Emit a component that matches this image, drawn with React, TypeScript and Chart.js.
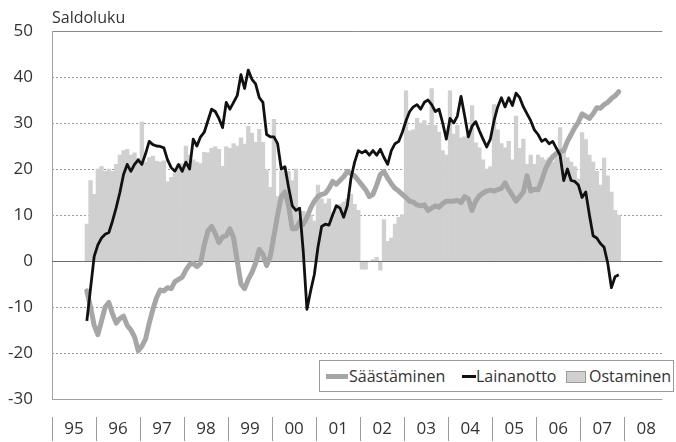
import { useEffect, useRef } from 'react';
import { Chart, registerables } from 'chart.js';

Chart.register(...registerables);

// Monthly series, October 1995 ... November 2007
const START_YEAR = 1995;
const START_MONTH = 9; // October (0-based)

const yearLabels = ['95', '96', '97', '98', '99', '00', '01', '02', '03', '04', '05', '06', '07', '08'];
const yTickValues = [-30, -20, -10, 0, 10, 20, 30, 40, 50];

const ostaminen = [
  8, 17.5, 14.5,
  20, 20.5, 19.5, 20, 19.5, 21, 23, 24, 24.3, 23, 23.5, 22.3,
  30.2, 21.5, 22.5, 22.8, 21.7, 21.5, 21.8, 17.2, 18.2, 19, 21, 21.2,
  25, 23, 22, 21.5, 21.2, 23.6, 23.5, 24.5, 24.8, 24.3, 20.6, 24.8,
  24.5, 25.5, 25, 26.8, 25.4, 29.3, 27.8, 25.8, 28.6, 25.8, 19.8, 16,
  30.8, 14, 19.5, 20.3, 19.5, 17.5, 20, 9.5, 10.8, 9.4, 10, 8.7,
  16.5, 13.5, 12.5, 13.5, 10.5, 11.6, 12.3, 12.8, 13.5, 14.5, 12.3, 11,
  -1.8, -1.8, 0, 0.3, 0.8, -2, 9, 4.3, 5, 8, 9.5, 10.1,
  37, 28.3, 28.5, 31, 30, 30.5, 29.5, 37.5, 29.5, 28, 24, 23,
  37, 27.6, 29.5, 26.8, 27, 27.5, 33.8, 25.7, 24.6, 22, 20, 20.5,
  34, 28.5, 25.5, 24.6, 26, 22, 31.5, 24.5, 26.5, 21, 23, 21,
  23, 22.5, 22, 22.5, 21.5, 23.5, 29, 24, 22.5, 21.5, 20.5, 17.8,
  27.9, 26.4, 23, 21.5, 19.5, 16.5, 22.4, 18.5, 15, 11, 10,
];

const lainanotto = [
  -13, -6, 1,
  3.5, 5, 5.8, 6.2, 8.7, 11.6, 14.9, 18.8, 21, 19.5, 21, 22,
  21, 23.3, 26, 25.3, 25, 24.9, 24.6, 22, 20.3, 19.5, 21, 19.5,
  21.5, 20, 26.5, 25, 27, 28, 30.5, 33, 32.5, 31, 29, 34.5,
  33, 34.5, 36, 40.5, 37.5, 41.5, 39.5, 38.5, 35.5, 34.5, 27.5, 27,
  27, 25.5, 20, 20.5, 16, 12, 11, 11.5, 2, -10.5, -6.5, -3,
  3, 7.5, 8, 7.8, 10, 12, 11.5, 9.5, 12, 18, 21.5, 24,
  23.5, 24, 23, 24, 23, 24.3, 22.5, 21, 24, 25.5, 26, 28,
  30.5, 32.5, 33.5, 34, 33, 34.5, 35, 34, 32.5, 33, 30, 26.5,
  31, 30, 31.5, 35.8, 31.5, 27, 29.3, 30.3, 28.3, 26.5, 24.8, 26.5,
  30.5, 33.5, 35.5, 33.5, 35.5, 33.8, 36.5, 35.5, 33.5, 32, 30.5, 28.5,
  27.5, 26, 26.5, 25.5, 26, 24.5, 23, 17.5, 20, 17.5, 17.3, 16.5,
  13.8, 15, 10, 5.5, 5, 3.8, 3, -0.5, -5.8, -3.4, -3,
];

const saastaminen = [
  -6.5, -10, -14,
  -16, -13, -10, -9, -11.5, -13.5, -12.5, -12, -14, -15, -16.5, -19.5,
  -18.5, -17, -13.5, -10.5, -8, -6.3, -6.5, -5.8, -6, -4.5, -4, -3.5,
  -2, -0.8, -0.5, -1.2, -0.5, 3.5, 6.5, 7.5, 6, 4, 5.2, 5.5,
  7, 5, 0, -5, -6, -4, -2.5, -0.5, 2.5, 1.5, -1, 1,
  5.5, 10, 14, 15, 12, 7, 7, 8.5, 8, 9.5, 11.5, 13,
  14, 14.5, 14.7, 15.8, 17.3, 16.7, 17.5, 18.3, 19.5, 19, 18.5, 17.5,
  16.5, 15.5, 14, 14.5, 16.5, 18.8, 19.5, 18, 16.8, 15.8, 15.2, 14.5,
  13.8, 13, 12.8, 12.2, 12, 12.2, 11, 11.5, 12, 11.7, 12.5, 13,
  13, 13, 13.2, 12.7, 14, 13.5, 11, 13, 14.2, 14.8, 15.2, 15.4,
  15.2, 15.5, 15.8, 17, 15.5, 14.3, 13, 14, 15, 18.5, 15.2, 15.6,
  15.5, 17.5, 20, 21.5, 22.7, 23.4, 23.8, 24, 26, 27.5, 29, 30.2,
  32, 31.5, 31, 32, 33.3, 33.2, 34, 34.5, 35.3, 35.9, 36.8,
];

const monthX = (i: number) => START_YEAR + (START_MONTH + i + 0.5) / 12;
const toPoints = (arr: number[]) => arr.map((y, i) => ({ x: monthX(i), y }));

const FONT = '"Open Sans", "DejaVu Sans", sans-serif';
const TEXT = '#333333';
const BAR = '#d0d0d0';
const GRAYLINE = '#a6a6a6';

const framePlugin = {
  id: 'frame',
  beforeDatasetsDraw(chart: any) {
    const { ctx, chartArea } = chart;
    const y = chart.scales.y;
    ctx.save();
    for (const v of yTickValues) {
      if (v === 0) continue;
      const py = Math.round(y.getPixelForValue(v)) + 0.5;
      ctx.beginPath();
      if (v === 50 || v === -30) {
        ctx.setLineDash([]);
        ctx.strokeStyle = v === 50 ? '#8a8a8a' : '#a0a0a0';
      } else {
        ctx.setLineDash([2, 2]);
        ctx.strokeStyle = '#9a9a9a';
      }
      ctx.lineWidth = 1;
      ctx.moveTo(chartArea.left, py);
      ctx.lineTo(chartArea.right, py);
      ctx.stroke();
    }
    ctx.setLineDash([]);
    ctx.strokeStyle = '#a0a0a0';
    ctx.beginPath();
    ctx.moveTo(chartArea.left + 0.5, chartArea.top);
    ctx.lineTo(chartArea.left + 0.5, chartArea.bottom);
    ctx.stroke();
    ctx.restore();
  },
  afterDatasetDraw(chart: any, args: any) {
    if (args.index !== 0) return;
    const { ctx, chartArea } = chart;
    const py = Math.round(chart.scales.y.getPixelForValue(0)) + 0.5;
    ctx.save();
    ctx.strokeStyle = '#6e6e6e';
    ctx.lineWidth = 1;
    ctx.beginPath();
    ctx.moveTo(chartArea.left, py);
    ctx.lineTo(chartArea.right, py);
    ctx.stroke();
    ctx.restore();
  },
  afterDraw(chart: any) {
    const { ctx } = chart;
    const x = chart.scales.x;
    ctx.save();
    ctx.strokeStyle = '#9a9a9a';
    ctx.lineWidth = 1;
    for (let i = 0; i < yearLabels.length; i++) {
      const px = Math.round(x.getPixelForValue(START_YEAR + i)) + 0.5;
      ctx.beginPath();
      ctx.moveTo(px, x.top + 18);
      ctx.lineTo(px, x.top + 42);
      ctx.stroke();
    }
    ctx.restore();
  },
};

export default function App() {
  const ref = useRef<HTMLCanvasElement | null>(null);

  useEffect(() => {
    if (!ref.current) return;
    const chart = new Chart(ref.current, {
      type: 'bar',
      data: {
        datasets: [
          {
            type: 'bar',
            label: 'Ostaminen',
            data: toPoints(ostaminen),
            backgroundColor: BAR,
            borderWidth: 0,
            barPercentage: 1,
            categoryPercentage: 1,
            order: 3,
          },
          {
            type: 'line',
            label: 'Säästäminen',
            data: toPoints(saastaminen),
            borderColor: GRAYLINE,
            borderWidth: 5,
            pointRadius: 0,
            tension: 0,
            fill: false,
            borderJoinStyle: 'round',
            borderCapStyle: 'round',
            order: 2,
          },
          {
            type: 'line',
            label: 'Lainanotto',
            data: toPoints(lainanotto),
            borderColor: '#111111',
            borderWidth: 2.8,
            pointRadius: 0,
            tension: 0,
            fill: false,
            borderJoinStyle: 'round',
            order: 1,
          },
        ] as any,
      },
      options: {
        animation: false,
        responsive: false,
        maintainAspectRatio: false,
        layout: { padding: { top: 31, left: 0, right: 0, bottom: 0 } },
        plugins: { legend: { display: false }, tooltip: { enabled: false }, title: { display: false } },
        scales: {
          x: {
            type: 'linear',
            min: START_YEAR,
            max: START_YEAR + 624 / 45,
            offset: false,
            grid: { display: false, drawTicks: false },
            border: { display: false },
            afterBuildTicks: (s: any) => {
              s.ticks = yearLabels.map((_, i) => ({ value: START_YEAR + 0.5 + i }));
            },
            afterFit: (s: any) => {
              s.height = 43;
            },
            ticks: {
              autoSkip: false,
              maxRotation: 0,
              minRotation: 0,
              padding: 20,
              color: TEXT,
              font: { family: FONT, size: 17 },
              callback: (v: any) => yearLabels[Math.floor(Number(v)) - START_YEAR] ?? '',
            },
          },
          y: {
            type: 'linear',
            min: -30,
            max: 50,
            grid: { display: false, drawTicks: false },
            border: { display: false },
            afterBuildTicks: (s: any) => {
              s.ticks = yTickValues.map((v) => ({ value: v }));
            },
            afterFit: (s: any) => {
              s.width = 52;
            },
            ticks: {
              padding: 19,
              color: TEXT,
              font: { family: FONT, size: 17 },
            },
          },
        },
      } as any,
      plugins: [framePlugin],
    });
    return () => chart.destroy();
  }, []);

  const legendText: React.CSSProperties = {
    position: 'absolute',
    top: 0,
    lineHeight: '30px',
    fontSize: 16,
    color: TEXT,
    whiteSpace: 'nowrap',
  };

  return (
    <div
      style={{
        position: 'absolute',
        left: 0,
        top: 0,
        width: 676,
        height: 442,
        background: '#ffffff',
        fontFamily: FONT,
        overflow: 'hidden',
      }}
    >
      <canvas ref={ref} width={676} height={442} style={{ display: 'block' }} />
      <div
        style={{
          position: 'absolute',
          left: 52,
          top: 6,
          fontSize: 16,
          lineHeight: '22px',
          color: TEXT,
        }}
      >
        Saldoluku
      </div>
      <div
        style={{
          position: 'absolute',
          left: 319,
          top: 360,
          width: 355,
          height: 32,
          boxSizing: 'border-box',
          border: '1px solid #9a9a9a',
          background: '#ffffff',
        }}
      >
        <div style={{ position: 'absolute', left: 6, top: 13, width: 22, height: 5, background: GRAYLINE }} />
        <div style={{ ...legendText, left: 29 }}>Säästäminen</div>
        <div style={{ position: 'absolute', left: 142, top: 14, width: 14, height: 3, background: '#111111' }} />
        <div style={{ ...legendText, left: 156 }}>Lainanotto</div>
        <div
          style={{
            position: 'absolute',
            left: 246,
            top: 10,
            width: 20,
            height: 12,
            boxSizing: 'border-box',
            background: BAR,
            border: '1px solid #9a9a9a',
          }}
        />
        <div style={{ ...legendText, left: 269 }}>Ostaminen</div>
      </div>
    </div>
  );
}
